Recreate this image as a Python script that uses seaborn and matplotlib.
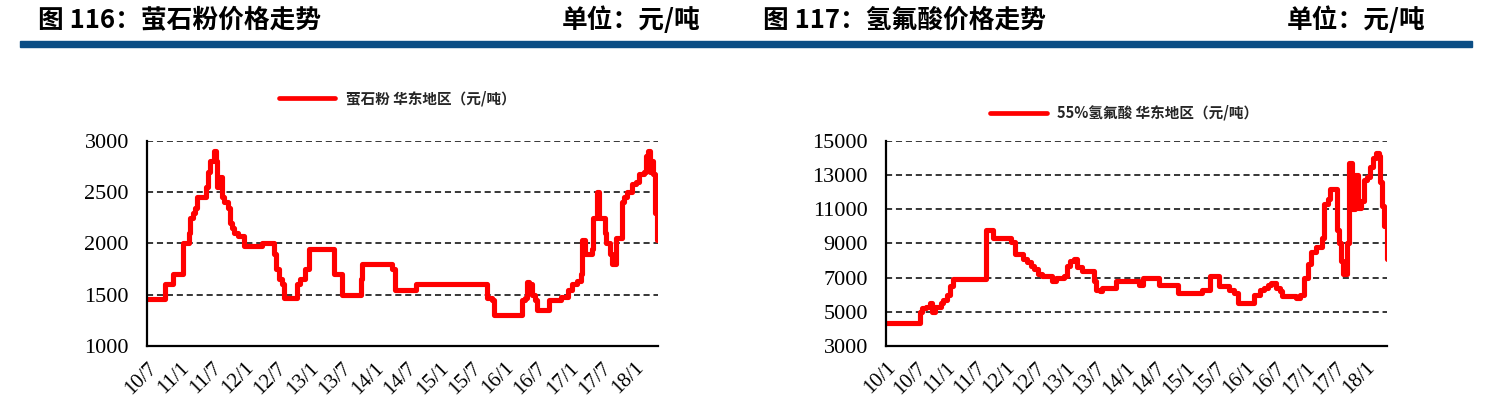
import numpy as np
import pandas as pd
import matplotlib
matplotlib.use("Agg")
import matplotlib.pyplot as plt
from matplotlib.lines import Line2D
from matplotlib.patches import Rectangle
import seaborn as sns

# ---------------- data (decimal year, price) ----------------
fluorite_year = [2010.500, 2010.774, 2010.896, 2011.049, 2011.140, 2011.159, 2011.201, 2011.232,
                 2011.262, 2011.415, 2011.445, 2011.476, 2011.524, 2011.555, 2011.579, 2011.628,
                 2011.659, 2011.689, 2011.750, 2011.780, 2011.811, 2011.841, 2011.902, 2011.994,
                 2012.268, 2012.451, 2012.482, 2012.530, 2012.573, 2012.604, 2012.805, 2012.860,
                 2012.939, 2013.000, 2013.378, 2013.506, 2013.793, 2013.811, 2014.268, 2014.311,
                 2014.646, 2015.732, 2015.805, 2015.835, 2016.274, 2016.323, 2016.354, 2016.384,
                 2016.433, 2016.476, 2016.506, 2016.689, 2016.872, 2016.982, 2017.043, 2017.116,
                 2017.177, 2017.195, 2017.238, 2017.348, 2017.372, 2017.421, 2017.451, 2017.543,
                 2017.573, 2017.622, 2017.665, 2017.713, 2017.805, 2017.848, 2017.890, 2017.970,
                 2018.030, 2018.079, 2018.152, 2018.183, 2018.213, 2018.244, 2018.262, 2018.293,
                 2018.323, 2018.348, 2018.366]
fluorite_price = [1460, 1600, 1700, 2000, 2100, 2250, 2300, 2350,
                  2450, 2550, 2700, 2800, 2900, 2800, 2550, 2650,
                  2450, 2400, 2350, 2200, 2150, 2100, 2070, 1980,
                  2000, 1900, 1750, 1650, 1600, 1470, 1600, 1650,
                  1750, 1950, 1700, 1500, 1650, 1800, 1750, 1550,
                  1600, 1470, 1450, 1300, 1450, 1470, 1620, 1600,
                  1500, 1450, 1350, 1450, 1480, 1550, 1600, 1630,
                  1700, 2030, 1900, 1950, 2250, 2500, 2250, 2100,
                  2000, 1900, 1800, 2050, 2400, 2450, 2500, 2580,
                  2600, 2680, 2700, 2850, 2900, 2700, 2800, 2680,
                  2300, 2030, 2030]

hf_year = [2010.000, 2010.575, 2010.608, 2010.674, 2010.727, 2010.760, 2010.826, 2010.912,
           2010.959, 2011.025, 2011.071, 2011.124, 2011.666, 2011.785, 2012.083, 2012.149,
           2012.281, 2012.347, 2012.413, 2012.479, 2012.545, 2012.612, 2012.777, 2012.843,
           2012.975, 2013.028, 2013.074, 2013.140, 2013.187, 2013.273, 2013.471, 2013.504,
           2013.570, 2013.603, 2013.835, 2014.231, 2014.298, 2014.562, 2014.873, 2015.276,
           2015.408, 2015.554, 2015.719, 2015.818, 2015.871, 2016.149, 2016.248, 2016.314,
           2016.380, 2016.433, 2016.512, 2016.579, 2016.612, 2016.843, 2016.909, 2016.975,
           2017.041, 2017.088, 2017.174, 2017.273, 2017.319, 2017.372, 2017.405, 2017.524,
           2017.570, 2017.603, 2017.636, 2017.702, 2017.736, 2017.788, 2017.835, 2017.881,
           2017.934, 2017.987, 2018.033, 2018.079, 2018.132, 2018.185, 2018.231, 2018.251,
           2018.278, 2018.317, 2018.364]
hf_price = [4350, 5000, 5200, 5300, 5500, 5000, 5300, 5500,
            5700, 6000, 6500, 6900, 9800, 9300, 9100, 8400,
            8100, 7900, 7700, 7500, 7200, 7100, 6800, 7000,
            7100, 7700, 8000, 8100, 7600, 7400, 6800, 6300,
            6200, 6400, 6800, 6600, 7000, 6600, 6100, 6300,
            7100, 6500, 6300, 6100, 5500, 6000, 6300, 6400,
            6600, 6700, 6400, 6200, 5900, 5800, 6000, 7000,
            7800, 8500, 8800, 9300, 11300, 11600, 12200, 9800,
            9000, 8000, 7200, 9000, 13700, 11000, 13000, 11100,
            11500, 12700, 12900, 13500, 14000, 14300, 14100, 12600,
            11200, 10000, 8100]

left_ticks = [2010.5 + 0.5 * i for i in range(16)]
left_labels = ["10/7", "11/1", "11/7", "12/1", "12/7", "13/1", "13/7", "14/1",
               "14/7", "15/1", "15/7", "16/1", "16/7", "17/1", "17/7", "18/1"]
right_ticks = [2010.0 + 0.5 * i for i in range(17)]
right_labels = ["10/1", "10/7", "11/1", "11/7", "12/1", "12/7", "13/1", "13/7", "14/1",
                "14/7", "15/1", "15/7", "16/1", "16/7", "17/1", "17/7", "18/1"]

left_yticks = [1000, 1500, 2000, 2500, 3000]
right_yticks = [3000, 5000, 7000, 9000, 11000, 13000, 15000]

left_title = "图 116：萤石粉价格走势"
right_title = "图 117：氢氟酸价格走势"
unit_text = "单位：元/吨"
left_legend = "萤石粉 华东地区（元/吨）"
right_legend = "55%氢氟酸 华东地区（元/吨）"

# ---------------- style ----------------
sns.set_style("white")
plt.rcParams["font.family"] = ["Noto Sans CJK SC", "DejaVu Sans"]

W, H = 1492, 420
fig = plt.figure(figsize=(W / 100, H / 100), dpi=100)

def fx(px):
    return px / W

def fy(py):
    return 1 - py / H

# titles
title_kw = dict(fontsize=18.5, fontweight="bold", va="center", color="black")
fig.text(fx(38), fy(20), left_title, ha="left", **title_kw)
fig.text(fx(701), fy(20), unit_text, ha="right", **title_kw)
fig.text(fx(763), fy(20), right_title, ha="left", **title_kw)
fig.text(fx(1426), fy(20), unit_text, ha="right", **title_kw)
fig.patches.append(Rectangle((fx(20), fy(47)), fx(1472) - fx(20), fy(41) - fy(47),
                             transform=fig.transFigure, color="#0C4E85", zorder=5))

serif = ["Liberation Serif", "DejaVu Serif"]

def make_axes(rect, xs, ys, xticks, xlabels, yticks, xlim, legend_label, legend_center):
    ax = fig.add_axes(rect)
    df = pd.DataFrame({"x": xs, "y": ys})
    sns.lineplot(data=df, x="x", y="y", ax=ax, color="#FF0000", linewidth=3.7,
                 drawstyle="steps-post", label=legend_label, sort=False)
    ax.set_xlim(*xlim)
    ax.set_ylim(yticks[0], yticks[-1])
    ax.set_yticks(yticks)
    ax.set_yticklabels([str(v) for v in yticks], fontfamily=serif, fontsize=16)
    ax.set_xticks(xticks)
    ax.set_xticklabels(xlabels, fontfamily=serif, fontsize=15, rotation=45,
                       ha="right", va="top", rotation_mode="anchor")
    ax.set_xlabel("")
    ax.set_ylabel("")
    for v in yticks[1:]:
        ax.axhline(v, color="black", linewidth=1.1, linestyle=(0, (4, 2.5)), zorder=0)
    for s in ["top", "right"]:
        ax.spines[s].set_visible(False)
    for s in ["left", "bottom"]:
        ax.spines[s].set_color("black")
        ax.spines[s].set_linewidth(1.6)
    ax.tick_params(axis="y", length=0, pad=13, colors="black")
    ax.tick_params(axis="x", direction="in", length=4, width=1.2, pad=9, colors="black")
    ax.legend_.remove()
    fig.legend(handles=[Line2D([], [], color="#FF0000", linewidth=3.4)],
               labels=[legend_label], loc="center",
               bbox_to_anchor=legend_center, bbox_transform=fig.transFigure,
               frameon=False, handlelength=3.9, handletextpad=0.7,
               prop={"family": ["Noto Sans CJK SC", "DejaVu Sans"],
                     "size": 10.5, "weight": "bold"})
    return ax

make_axes([fx(147), fy(346), fx(658) - fx(147), fy(141) - fy(346)],
          fluorite_year, fluorite_price, left_ticks, left_labels, left_yticks,
          (2010.5, 2018.366), left_legend, (fx(397), fy(98)))
make_axes([fx(886), fy(346), fx(1387) - fx(886), fy(141) - fy(346)],
          hf_year, hf_price, right_ticks, right_labels, right_yticks,
          (2010.0, 2018.364), right_legend, (fx(1124), fy(113)))

fig.savefig("out.png", dpi=100)
